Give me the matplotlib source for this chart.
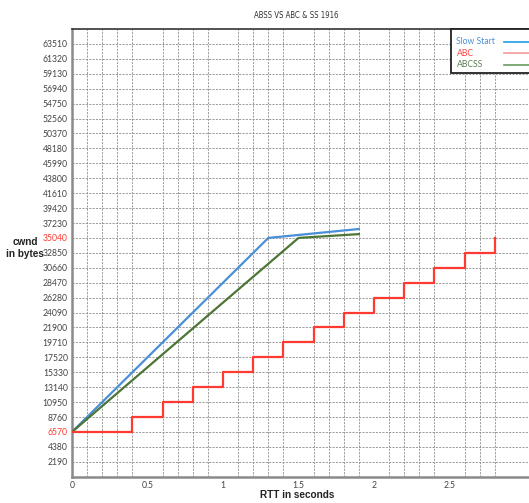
import numpy as np
import matplotlib
matplotlib.use('Agg')
import matplotlib.pyplot as plt
from matplotlib.patches import Rectangle
from matplotlib.lines import Line2D

# data
rtt_ss = [0, 1.3, 1.9]
cwnd_ss = [6570, 35040, 36350]

rtt_abcss = [0, 1.5, 1.9]
cwnd_abcss = [6570, 35040, 35600]

rtt_abc = [0, 0.4, 0.6, 0.8, 1.0, 1.2, 1.4, 1.6, 1.8, 2.0, 2.2, 2.4, 2.6, 2.8]
cwnd_abc = [6570, 8760, 10950, 13140, 15330, 17520, 19710, 21900, 24090,
            26280, 28470, 30660, 32850, 35040]

y_ticks = [2190 * k for k in range(1, 30)]
x_ticks = [0, 0.5, 1, 1.5, 2, 2.5]
x_ticklabels = ['0', '0.5', '1', '1.5', '2', '2.5']
red_labels = [6570, 35040]

legend_names = ['Slow Start', 'ABC', 'ABCSS']
legend_text_colors = ['#4a8fd8', '#ff4040', '#5d7d4f']
legend_line_colors = ['#1ea0e6', '#f59a9a', '#6a9a60']

W, H = 529, 503
fig = plt.figure(figsize=(W / 100, H / 100), dpi=100)
ax = fig.add_axes([72 / W, 1 - 476.7 / H, (W - 72) / W, (476.7 - 29) / H])

ax.plot(rtt_ss, cwnd_ss, color='#4a8fd8', lw=1.6, zorder=3)
ax.plot(rtt_abcss, cwnd_abcss, color='#4d7536', lw=1.6, zorder=3)
ax.step(rtt_abc, cwnd_abc, where='post', color='#ff3a30', lw=1.6, zorder=3)

ax.set_xlim(0, (W - 72) / 151)
ax.set_ylim(0, 65700)

ax.set_xticks(x_ticks)
ax.set_xticklabels(x_ticklabels, family='Lato')
ax.set_xticks(np.round(np.arange(0.1, 2.85, 0.1), 2), minor=True)
ax.set_yticks(y_ticks)
ax.set_yticklabels([str(v) for v in y_ticks], family='Lato')

ax.tick_params(axis='both', which='both', length=0, labelsize=6.2, labelcolor='#444')
ax.tick_params(axis='y', pad=3)
ax.tick_params(axis='x', pad=3)
for lab, v in zip(ax.get_yticklabels(), y_ticks):
    if v in red_labels:
        lab.set_color('#ff3a30')

ax.grid(True, which='minor', axis='x', color='#8a8a8a', ls=(0, (2.5, 1.5)), lw=0.6)
ax.grid(True, which='major', axis='y', color='#8a8a8a', ls=(0, (2.5, 1.5)), lw=0.6)

ax.spines['right'].set_visible(False)
ax.spines['left'].set_color('#8a8a8a')
ax.spines['left'].set_linewidth(1.8)
ax.spines['bottom'].set_color('#8a8a8a')
ax.spines['bottom'].set_linewidth(1.8)
ax.spines['top'].set_color('#333')
ax.spines['top'].set_linewidth(1.2)

# legend box drawn by hand (text left aligned, line after text, box runs off the edge)
fig.patches.append(Rectangle((450.5 / W, 1 - 73 / H), 100 / W, 43.5 / H,
                             transform=fig.transFigure, facecolor='white',
                             edgecolor='#222', lw=1.3, zorder=5))
for i, (name, tc, lc) in enumerate(zip(legend_names, legend_text_colors, legend_line_colors)):
    yy = 1 - (41.5 + 11.5 * i) / H
    fig.text(456.5 / W, yy, name, ha='left', va='center', fontsize=6.2,
             family='Lato', color=tc, zorder=6)
    fig.lines.append(Line2D([504 / W, 1.0], [yy, yy], transform=fig.transFigure,
                            color=lc, lw=1.2, zorder=6))

fig.text(296 / W, 1 - 15 / H, 'ABSS VS ABC & SS 1916', ha='center', va='center',
         fontsize=5.6, color='#333', family=['Liberation Sans Narrow', 'DejaVu Sans'],
         fontstretch='condensed')
fig.text(25 / W, 1 - 248 / H, 'cwnd\nin bytes', ha='center', va='center',
         fontsize=7.2, fontweight='bold', color='#222', linespacing=1.2,
         family='Liberation Sans')
fig.text(297 / W, 1 - 495 / H, 'RTT in seconds', ha='center', va='center',
         fontsize=7.2, fontweight='bold', color='#222', family='Liberation Sans')

fig.savefig('out.png', dpi=100)
